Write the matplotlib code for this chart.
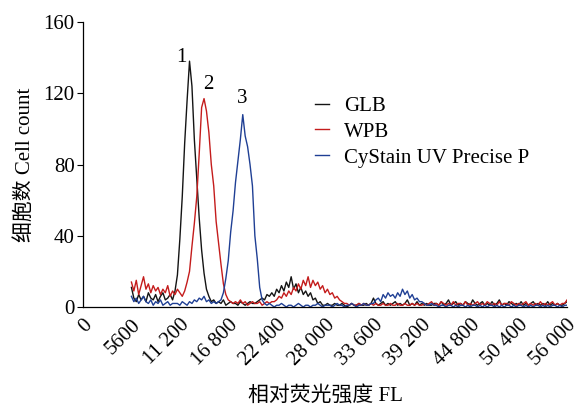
import numpy as np
import matplotlib

matplotlib.use("Agg")
import matplotlib.pyplot as plt

# histogram bins: 5600 .. 56000, width 280
bin_start = 5600
bin_stop = 56000
bin_width = 280

glb = [
    11, 5, 3, 7, 4, 6, 3, 8, 5, 4, 7, 3, 6, 8, 4, 5, 7, 4, 9,
    18, 38, 62, 92, 116, 138, 124, 94, 72, 50, 32, 19, 10, 6, 3,
    4, 2, 3, 2, 4, 1, 2, 3, 2, 2, 1, 3, 2, 1, 2, 3, 2, 2,
    3, 4, 5, 4, 7, 6, 8, 6, 10, 8, 12, 9, 14, 11, 17, 10, 13, 8, 11, 7, 9, 6, 8, 4, 5, 2, 3, 1, 1,
    2, 1, 1, 2, 1, 1, 2, 1, 0, 1, 2, 1, 1, 2, 1, 1, 2, 1, 2,
    5, 2, 1, 2, 3, 1, 2, 1, 2, 3, 1, 2, 1, 2, 4, 1, 2, 1, 3, 1, 2, 1, 2, 1, 1, 2,
    2, 1, 3, 1, 2, 4, 1, 2, 3, 1, 2, 1, 3, 2, 1, 4, 2, 1, 2, 3,
    1, 2, 1, 3, 1, 2, 4, 1, 2, 1, 3, 2, 1, 2, 1, 3, 1, 2, 1, 2,
    3, 1, 2, 1, 2, 1, 3, 1, 2, 1, 2, 1, 1, 2, 3,
]

wpb = [
    14, 9, 15, 7, 12, 17, 10, 13, 8, 12, 9, 11, 7, 10, 8, 12, 6, 9, 7,
    10, 8, 6, 9, 14, 20, 34, 47, 62, 86, 112, 117, 110, 98, 80, 68, 48, 36, 24, 13, 7, 4, 3,
    2, 3, 2, 4, 2, 3, 1, 2, 3, 2, 2, 3, 1, 2, 3, 2, 3, 3,
    4, 6, 5, 8, 6, 9, 7, 11, 9, 13, 10, 15, 12, 17, 11, 15, 12, 14, 10, 12,
    8, 10, 7, 8, 5, 6, 4, 3, 2, 2,
    1, 2, 1, 1, 2, 1, 2, 1, 1, 2, 1, 2, 1, 1, 2, 1, 1, 2, 1, 1,
    2, 1, 1, 2, 1, 1, 2, 1, 2, 1, 1, 2, 1, 2, 3, 1, 2, 1, 3, 2,
    1, 2, 1, 3, 1, 2, 2, 1, 3, 1, 2, 1, 2, 3, 1, 2, 1, 3, 2, 1,
    2, 1, 3, 1, 2, 2, 1, 3, 2, 1, 2, 1, 2, 3, 1, 2, 1, 2, 1, 3,
    1, 2, 1, 2, 3, 1, 2, 1, 2, 2, 4,
]

cystain = [
    6, 3, 5, 2, 4, 6, 3, 2, 4, 1, 3, 2, 4, 1, 2, 3, 1, 2, 2,
    2, 1, 3, 2, 1, 3, 2, 4, 3, 5, 4, 6, 3, 4, 2, 3, 2, 3,
    4, 8, 16, 26, 42, 54, 70, 82, 94, 108, 96, 90, 80, 68, 40, 27, 11, 4, 2,
    1, 2, 1, 0, 1, 1, 2, 1, 0, 1, 1, 0, 1, 2, 1, 0, 1, 1, 0, 1,
    1, 2, 1, 0, 1, 1, 1, 0, 1, 2, 1, 1, 0, 1, 1, 2, 1, 0, 1, 1,
    2, 1, 1, 2,
    2, 4, 5, 3, 7, 5, 8, 6, 7, 5, 8, 6, 10, 7, 9, 5, 7, 4, 5, 3, 3, 2, 1, 1, 2, 1,
    1, 0, 1, 1, 0, 1, 1, 0, 1, 0, 1, 1, 0, 1, 0, 1, 1, 0, 1, 0,
    1, 0, 1, 1, 0, 1, 0, 1, 0, 1, 1, 0, 1, 0, 1, 1, 0, 1, 0, 1,
    0, 1, 1, 0, 1, 0, 1, 0, 1, 1, 0, 1, 0, 1, 1,
]

series_names = ["GLB", "WPB", "CyStain UV Precise P"]
series_colors = ["#141414", "#c41c1c", "#1f3f94"]
peak_labels = ["1", "2", "3"]
peak_label_pos = [(11350, 140), (14450, 125), (18400, 117)]

x_ticks = [0, 5600, 11200, 16800, 22400, 28000, 33600, 39200, 44800, 50400, 56000]
x_tick_labels = ["0", "5600", "11 200", "16 800", "22 400", "28 000",
                 "33 600", "39 200", "44 800", "50 400", "56 000"]
y_ticks = [0, 40, 80, 120, 160]

plt.rcParams["font.family"] = ["Liberation Serif", "Noto Sans CJK SC"]
plt.rcParams["font.size"] = 15

x = np.arange(bin_start, bin_stop + 1, bin_width)

fig = plt.figure(figsize=(5.79, 4.11), dpi=100)
ax = fig.add_axes([0.1434, 0.253, 0.836, 0.6935])

for values, name, color in zip([glb, wpb, cystain], series_names, series_colors):
    ax.plot(x, values, color=color, linewidth=1.0, label=name)

for text, (px, py) in zip(peak_labels, peak_label_pos):
    ax.text(px, py, text, ha="center", va="center", fontsize=15)

ax.set_xlim(0, 56000)
ax.set_ylim(0, 160)
ax.set_xticks(x_ticks)
ax.set_xticklabels(x_tick_labels, rotation=45, ha="right", va="top",
                   rotation_mode="anchor")
ax.set_yticks(y_ticks)
ax.tick_params(axis="x", length=0, pad=6)
ax.tick_params(axis="y", length=4, width=0.8, pad=2)
for side in ("top", "right"):
    ax.spines[side].set_visible(False)
for side in ("left", "bottom"):
    ax.spines[side].set_linewidth(0.9)

ax.set_ylabel("细胞数 Cell count", labelpad=6)
ax.set_xlabel("相对荧光强度 FL", labelpad=12)

ax.legend(loc="upper left", bbox_to_anchor=(0.44, 0.805), frameon=False,
          handlelength=0.7, handletextpad=0.7, labelspacing=0.3,
          fontsize=15)

fig.savefig("out.png", dpi=100)
